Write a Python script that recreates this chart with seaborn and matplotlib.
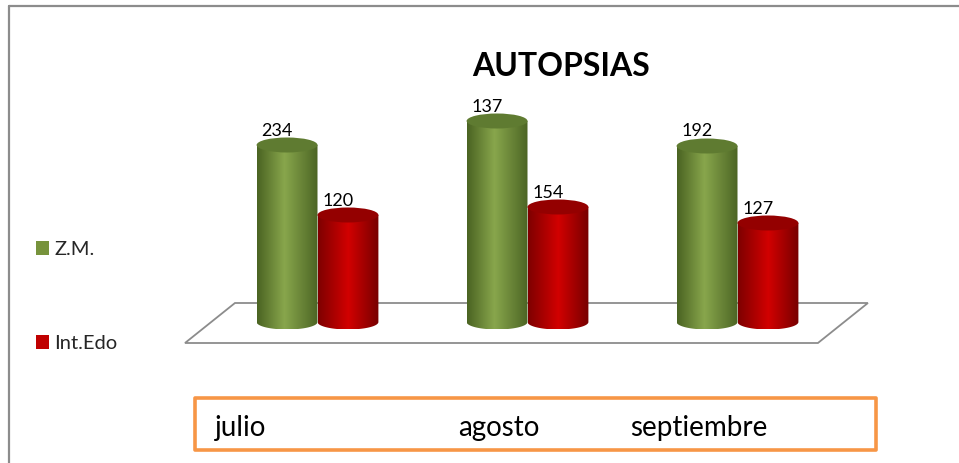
import numpy as np
import pandas as pd
import seaborn as sns
import matplotlib.pyplot as plt
from matplotlib.path import Path
from matplotlib.patches import Ellipse, Polygon, PathPatch, Rectangle
from matplotlib.colors import LinearSegmentedColormap
from matplotlib.lines import Line2D

# datos del grafico
meses = ['julio', 'agosto', 'septiembre']
series = ['Z.M.', 'Int.Edo']
# numeros que aparecen sobre cada cilindro
zm_etiqueta = [234, 137, 192]
edo_etiqueta = [120, 154, 127]
# altura dibujada de cada cilindro (leida de la imagen, no coincide con la etiqueta)
zm_altura = [177, 201, 176]
edo_altura = [107, 115, 99]

colores = {'Z.M.': '#77933C', 'Int.Edo': '#C00000'}
tapas = {'Z.M.': '#5F7B31', 'Int.Edo': '#940000'}
degradados = {
    'Z.M.': LinearSegmentedColormap.from_list('verde', [(0, '#4A6322'), (0.45, '#88A64C'), (1, '#4C6524')]),
    'Int.Edo': LinearSegmentedColormap.from_list('rojo', [(0, '#7E0000'), (0.5, '#D20000'), (1, '#760000')]),
}

sns.set_theme(style='white')
plt.rcParams['font.family'] = ['Lato', 'DejaVu Sans']

df = pd.DataFrame({
    'mes': meses * 2,
    'serie': [series[0]] * 3 + [series[1]] * 3,
    'altura': zm_altura + edo_altura,
})

W, H = 959, 463
fig = plt.figure(figsize=(W / 100, H / 100), dpi=100)


def fx(px):
    return px / W


def fy(py):
    return 1 - py / H


ax = fig.add_axes([fx(170.5), fy(350), (884.5 - 170.5) / W, 250 / H])
sns.barplot(data=df, x='mes', y='altura', hue='serie', hue_order=series,
            palette=colores, saturation=1, width=0.58, gap=0,
            legend=False, ax=ax)

ry = 7.5  # medio alto de la elipse (unidades del eje y)

# piso en perspectiva
piso = Polygon([(-0.631, -21), (2.383, -21), (2.621, 19), (-0.393, 19)],
               closed=True, facecolor='white', edgecolor='#8C8C8C', lw=1.3, zorder=1)
ax.add_patch(piso)

etiquetas = zm_etiqueta + edo_etiqueta
for i, p in enumerate(list(ax.patches)):
    if p is piso:
        continue
    serie = series[i // 3]
    x0, w, h = p.get_x(), p.get_width(), p.get_height()
    p.set_visible(False)
    cx, rx = x0 + w / 2, w / 2
    z = 2 if serie == series[0] else 3

    t = np.linspace(np.pi, 2 * np.pi, 80)
    verts = [(x0, h)] + list(zip(cx + rx * np.cos(t), ry * np.sin(t))) + [(x0 + w, h), (x0, h)]
    cuerpo = PathPatch(Path(verts), transform=ax.transData, facecolor='none', edgecolor='none')
    im = ax.imshow(np.linspace(0, 1, 256).reshape(1, -1), cmap=degradados[serie],
                   extent=(x0, x0 + w, -ry, h), aspect='auto', origin='lower',
                   interpolation='bilinear', zorder=z)
    im.set_clip_path(cuerpo)

    ax.add_patch(Ellipse((cx, h), w, 2 * ry, facecolor=tapas[serie],
                         edgecolor='none', zorder=z + 0.1))
    ax.annotate(str(etiquetas[i]), (cx, h + ry), xytext=(-10, 2),
                textcoords='offset pixels', ha='center', va='baseline',
                fontsize=13, color='black', zorder=6)

ax.set_xlim(-0.7, 2.7)
ax.set_ylim(-28, 222)
ax.set_axis_off()

# titulo
fig.text(fx(561), fy(67), 'AUTOPSIAS', ha='center', va='center',
         fontsize=23, fontweight='bold', color='black')

# leyenda
handles = [Rectangle((0, 0), 1, 1, facecolor=colores[s], edgecolor='none') for s in series]
fig.legend(handles, series, loc='upper left', bbox_to_anchor=(fx(36), fy(241)),
           frameon=False, fontsize=14.5, handlelength=0.65, handleheight=0.65,
           handletextpad=0.25, labelspacing=3.83, borderpad=0, borderaxespad=0)

# caja naranja con los meses
fig.patches.append(Rectangle((fx(195), fy(450)), fx(876) - fx(195), fy(398) - fy(450),
                             transform=fig.transFigure, facecolor='none',
                             edgecolor='#F79646', lw=2.6, joinstyle='round'))
for mes, xpos in zip(meses, [215, 458, 630]):
    fig.text(fx(xpos), fy(436), mes, ha='left', va='baseline', fontsize=20, color='black')

# borde del area del grafico
fig.lines.append(Line2D([fx(9), 1], [fy(6), fy(6)], transform=fig.transFigure, color='#8C8C8C', lw=1.6))
fig.lines.append(Line2D([fx(9), fx(9)], [fy(6), 0], transform=fig.transFigure, color='#8C8C8C', lw=1.6))

fig.savefig('out.png', dpi=100)
